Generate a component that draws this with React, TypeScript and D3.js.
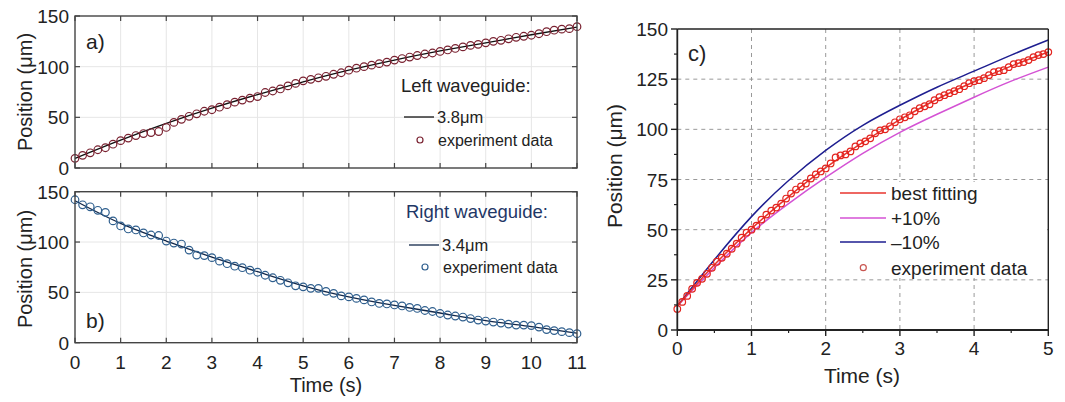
import React from "react";
import * as d3 from "d3";

// ---- data ----
// panels a/b: experiment frames every 1/6 s from 0 to 11 s
const leftExp = [
  9.5, 12.5, 15, 18, 20, 23.5, 27, 29.5, 32, 34, 35, 36, 40, 45, 48, 51, 53.5,
  56, 57.5, 60, 62.5, 65, 67, 69, 70.5, 74.5, 76, 78, 81, 83.5, 86, 87.5, 89,
  90.5, 92.5, 94, 96.5, 98.5, 100, 101.5, 103, 104.5, 106.5, 108, 109.5, 111,
  112.5, 113.5, 115, 116.5, 118, 119.5, 121, 122, 123.5, 125, 126, 127.5, 129,
  130, 131, 132.5, 134.5, 136, 137, 137.5, 139.5,
];
const rightExp = [
  142, 137, 135, 131.5, 129.5, 121, 116, 113, 112, 109, 107, 106.5, 101, 99, 98,
  92, 87, 86.5, 84.5, 81, 78.5, 76, 74.5, 72, 70, 67, 64.5, 62, 59.5, 56.5,
  55.5, 54, 54, 51, 49, 46.5, 45.5, 44, 42.5, 40.5, 39, 38.5, 37.5, 36.5, 35,
  34, 32, 31, 29, 27.5, 26.5, 25.5, 24, 22.5, 21.5, 20.5, 19.5, 18.5, 17.5,
  17.5, 17, 15.5, 13, 12, 11, 10, 9,
];
const fitTimes = [0, 1, 2, 3, 4, 5, 6, 7, 8, 9, 10, 11];
const leftFit = [9.5, 27.5, 44, 59, 72.5, 85, 96.5, 106.5, 115.5, 123.5, 131.5, 139];
const rightFit = [141, 118.5, 101, 85, 70.5, 56.5, 45.5, 37, 29.5, 22, 16, 9.5];
const abTicks = [0, 1, 2, 3, 4, 5, 6, 7, 8, 9, 10, 11];
const abYTicks = [0, 50, 100, 150];

// panel c: experiment frames every 1/15 s from 0 to 5 s
const cExp = [
  10.5, 14, 17, 20.5, 23.5, 25.5, 28, 31, 34, 36, 38, 40.5, 43, 46, 48.5, 50,
  52, 55, 57.5, 59.5, 61, 63, 65.5, 68, 70, 71.5, 73, 75.5, 77.5, 79, 80.5, 83,
  86, 87, 87.5, 89, 91.5, 93, 94, 95.5, 98, 99.5, 100, 101.5, 103.5, 105, 106,
  107, 109, 110.5, 111.5, 112.5, 114.5, 116, 117, 118, 119, 120, 121.5, 123,
  124, 124.5, 125.5, 127, 128.5, 129, 129.5, 131, 132.5, 133, 133.5, 134.5, 136,
  137, 137.5, 138.5,
];
const cFitTimes = [0, 0.5, 1, 1.5, 2, 2.5, 3, 3.5, 4, 4.5, 5];
const bestFit = [12, 32.5, 50.5, 66.5, 80.9, 93.5, 104.8, 115, 123.7, 131.5, 138.5];
const plus10 = [12, 31, 48.5, 63, 76, 88, 98.5, 107.5, 116, 124, 131];
const minus10 = [12, 35, 56.5, 74.5, 89.5, 102, 112, 121, 129, 137, 144.5];
const cXTicks = [0, 1, 2, 3, 4, 5];
const cXMinor = [0.5, 1.5, 2.5, 3.5, 4.5];
const cYTicks = [0, 25, 50, 75, 100, 125, 150];
const cYMinor = [12.5, 37.5, 62.5, 87.5, 112.5, 137.5];

const FONT = "'Liberation Sans', Arial, sans-serif";

function MatlabPanel({
  top,
  bottom,
  exp,
  fit,
  dotColor,
  lineColor,
  label,
  labelY,
  showX,
  legend,
}: any) {
  const x = d3.scaleLinear().domain([0, 11]).range([75, 577]);
  const y = d3.scaleLinear().domain([0, 150]).range([bottom, top]);
  const line = d3
    .line<number>()
    .x((_, i) => x(fitTimes[i]))
    .y((d) => y(d))
    .curve(d3.curveNatural);
  const tk = 5;
  return (
    <g fontFamily={FONT}>
      {abTicks.slice(1, -1).map((t) => (
        <line key={"gx" + t} x1={x(t)} x2={x(t)} y1={top} y2={bottom} stroke="#e6e6e6" />
      ))}
      {abYTicks.slice(1, -1).map((t) => (
        <line key={"gy" + t} x1={75} x2={577} y1={y(t)} y2={y(t)} stroke="#e6e6e6" />
      ))}
      <path d={line(fit) || ""} fill="none" stroke={lineColor} strokeWidth={1.3} />
      {exp.map((v: number, i: number) => (
        <circle key={i} cx={x(i / 6)} cy={y(v)} r={3.8} fill="none" stroke={dotColor} strokeWidth={1.2} />
      ))}
      <rect x={75} y={top} width={502} height={bottom - top} fill="none" stroke="#444" strokeWidth={1.4} />
      {abTicks.map((t) => (
        <g key={"tx" + t}>
          <line x1={x(t)} x2={x(t)} y1={bottom} y2={bottom - tk} stroke="#444" strokeWidth={1.2} />
          <line x1={x(t)} x2={x(t)} y1={top} y2={top + tk} stroke="#444" strokeWidth={1.2} />
          {showX && (
            <text x={x(t)} y={bottom + 26} textAnchor="middle" fontSize={19} fill="#222">
              {t}
            </text>
          )}
        </g>
      ))}
      {abYTicks.map((t) => (
        <g key={"ty" + t}>
          <line x1={75} x2={75 + tk} y1={y(t)} y2={y(t)} stroke="#444" strokeWidth={1.2} />
          <line x1={577} x2={577 - tk} y1={y(t)} y2={y(t)} stroke="#444" strokeWidth={1.2} />
          <text x={69} y={y(t) + 7} textAnchor="end" fontSize={19} fill="#222">
            {t}
          </text>
        </g>
      ))}
      <text
        transform={`translate(32,${labelY}) rotate(-90)`}
        textAnchor="middle"
        fontSize={20}
        fill="#222"
      >
        Position (μm)
      </text>
      <text x={label.x} y={label.y} fontSize={21} fill="#222">
        {label.text}
      </text>
      <text x={legend.x} y={legend.titleY} fontSize={18.5} fill={legend.titleColor}>
        {legend.title}
      </text>
      <line
        x1={legend.x + 3}
        x2={legend.x + 33}
        y1={legend.lineY}
        y2={legend.lineY}
        stroke={lineColor}
        strokeWidth={1.3}
      />
      <text x={legend.x + 36} y={legend.lineY + 6} fontSize={16.5} fill="#222">
        {legend.fitText}
      </text>
      <circle cx={legend.x + 19} cy={legend.dotY} r={3} fill="none" stroke={dotColor} strokeWidth={1.2} />
      <text x={legend.x + 37} y={legend.dotY + 6} fontSize={16} fill="#222">
        experiment data
      </text>
    </g>
  );
}

function PanelC() {
  const x = d3.scaleLinear().domain([0, 5]).range([677.3, 1048.3]);
  const y = d3.scaleLinear().domain([0, 150]).range([330, 29]);
  const mk = d3
    .line<number>()
    .x((_, i) => x(cFitTimes[i]))
    .y((d) => y(d))
    .curve(d3.curveNatural);
  const dash = "4,4";
  const legX = 840;
  const legItems = [
    { text: "best fitting", color: "#e8342e", y: 193 },
    { text: "+10%", color: "#d452d4", y: 218 },
    { text: "\u201310%", color: "#1e1e90", y: 242 },
  ];
  return (
    <g fontFamily={FONT}>
      {cXTicks.slice(1, -1).map((t) => (
        <line key={"gx" + t} x1={x(t)} x2={x(t)} y1={29} y2={330} stroke="#999" strokeDasharray={dash} />
      ))}
      {cYTicks.slice(1, -1).map((t) => (
        <line key={"gy" + t} x1={677.3} x2={1048.3} y1={y(t)} y2={y(t)} stroke="#999" strokeDasharray={dash} />
      ))}
      <path d={mk(plus10) || ""} fill="none" stroke="#d452d4" strokeWidth={1.5} />
      <path d={mk(minus10) || ""} fill="none" stroke="#1e1e90" strokeWidth={1.5} />
      <path d={mk(bestFit) || ""} fill="none" stroke="#e8342e" strokeWidth={1.5} />
      {cExp.map((v, i) => (
        <circle key={i} cx={x(i / 15)} cy={y(v)} r={3.3} fill="none" stroke="#e3241f" strokeWidth={1.2} />
      ))}
      <rect x={828} y={182} width={219} height={96} fill="#fff" />
      {legItems.map((d) => (
        <g key={d.text}>
          <line x1={legX} x2={legX + 46} y1={d.y} y2={d.y} stroke={d.color} strokeWidth={1.5} />
          <text x={legX + 51} y={d.y + 7} fontSize={19} fill="#222">
            {d.text}
          </text>
        </g>
      ))}
      <circle cx={863.3} cy={267.7} r={3} fill="none" stroke="#c85550" strokeWidth={1.2} />
      <text x={legX + 51} y={267.7 + 7} fontSize={19} fill="#222">
        experiment data
      </text>
      <line x1={677.3} x2={1048.3} y1={29} y2={29} stroke="#222" strokeWidth={1.4} />
      <line x1={1048.3} x2={1048.3} y1={29} y2={330} stroke="#222" strokeWidth={1.4} />
      <line x1={677.3} x2={1048.3} y1={330} y2={330} stroke="#222" strokeWidth={1.8} />
      <line x1={677.3} x2={677.3} y1={29} y2={330} stroke="#222" strokeWidth={1.8} />
      {cXTicks.map((t) => (
        <g key={"tx" + t}>
          <line x1={x(t)} x2={x(t)} y1={330} y2={336} stroke="#222" strokeWidth={1.4} />
          <text x={x(t)} y={355} textAnchor="middle" fontSize={19} fill="#222">
            {t}
          </text>
        </g>
      ))}
      {cXMinor.map((t) => (
        <line key={"mx" + t} x1={x(t)} x2={x(t)} y1={330} y2={333} stroke="#222" strokeWidth={1.2} />
      ))}
      {cYTicks.map((t) => (
        <g key={"ty" + t}>
          <line x1={671} x2={677.3} y1={y(t)} y2={y(t)} stroke="#222" strokeWidth={1.4} />
          <text x={668} y={y(t) + 7} textAnchor="end" fontSize={19} fill="#222">
            {t}
          </text>
        </g>
      ))}
      {cYMinor.map((t) => (
        <line key={"my" + t} x1={674} x2={677.3} y1={y(t)} y2={y(t)} stroke="#222" strokeWidth={1.2} />
      ))}
      <text x={688} y={61} fontSize={22} fill="#222">
        c)
      </text>
      <text x={862} y={383} textAnchor="middle" fontSize={21} fill="#222">
        Time (s)
      </text>
      <text transform="translate(622,166) rotate(-90)" textAnchor="middle" fontSize={21} fill="#222">
        Position (μm)
      </text>
    </g>
  );
}

export default function App() {
  return (
    <div style={{ position: "absolute", left: 0, top: 0 }}>
      <svg width={1065} height={402} style={{ display: "block", background: "#fff" }}>
        <MatlabPanel
          top={16}
          bottom={168}
          exp={leftExp}
          fit={leftFit}
          dotColor="#7a2231"
          lineColor="#111"
          label={{ text: "a)", x: 86, y: 49 }}
          labelY={92}
          showX={false}
          legend={{
            x: 401,
            title: "Left waveguide:",
            titleColor: "#222",
            titleY: 92,
            lineY: 117,
            dotY: 140,
            fitText: "3.8μm",
          }}
        />
        <MatlabPanel
          top={191.7}
          bottom={342.7}
          exp={rightExp}
          fit={rightFit}
          dotColor="#2f5f8e"
          lineColor="#12284a"
          label={{ text: "b)", x: 86, y: 328 }}
          labelY={269}
          showX={true}
          legend={{
            x: 406,
            title: "Right waveguide:",
            titleColor: "#1f3766",
            titleY: 218,
            lineY: 245,
            dotY: 267,
            fitText: "3.4μm",
          }}
        />
        <text x={326} y={392} textAnchor="middle" fontSize={20} fill="#222" fontFamily={FONT}>
          Time (s)
        </text>
        <PanelC />
      </svg>
    </div>
  );
}
